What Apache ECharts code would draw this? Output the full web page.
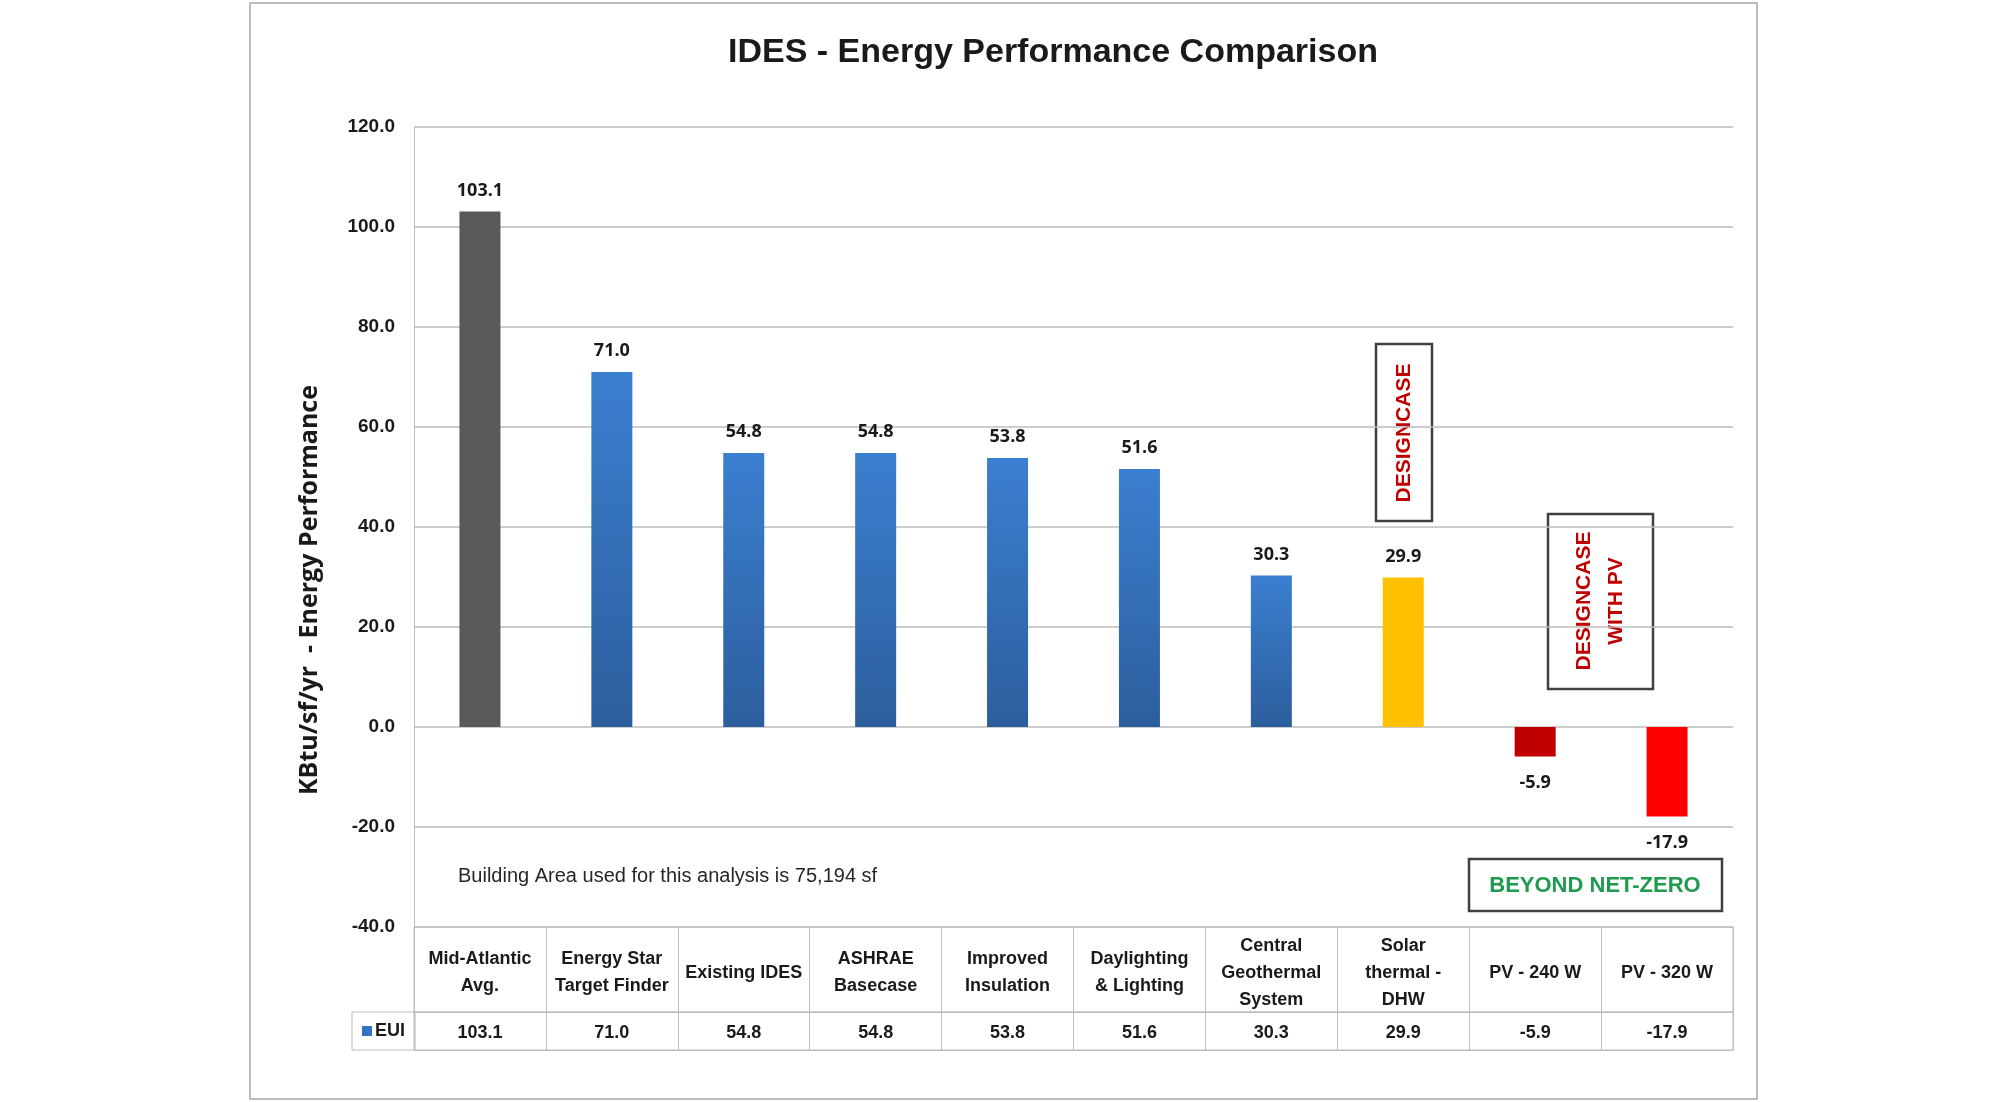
<!DOCTYPE html>
<html>
<head>
<meta charset="utf-8">
<script src="https://cdn.jsdelivr.net/npm/echarts@6/dist/echarts.min.js"></script>
<style>
html,body{margin:0;padding:0;background:#fff;}
#chart{width:2008px;height:1102px;}
</style>
</head>
<body>
<div id="chart"></div>
<script>
// ---- data ----
const categories = [
  "Mid-Atlantic\nAvg.",
  "Energy Star\nTarget Finder",
  "Existing IDES",
  "ASHRAE\nBasecase",
  "Improved\nInsulation",
  "Daylighting\n& Lighting",
  "Central\nGeothermal\nSystem",
  "Solar\nthermal -\nDHW",
  "PV - 240 W",
  "PV - 320 W"
];
const euiValues = [103.1, 71.0, 54.8, 54.8, 53.8, 51.6, 30.3, 29.9, -5.9, -17.9];
const yTicks = { min: -40, max: 120, interval: 20 };
const seriesName = "EUI";

// ---- styles ----
const blueGrad = {
  type: 'linear', x: 0, y: 0, x2: 0, y2: 1,
  colorStops: [{ offset: 0, color: '#3b7fd0' }, { offset: 1, color: '#2c5e9d' }]
};
const barColors = ['#595959', blueGrad, blueGrad, blueGrad, blueGrad, blueGrad, blueGrad, '#ffc000', '#c00000', '#ff0000'];
const narrow = '"Liberation Sans Narrow", "Liberation Sans", Arial, sans-serif';
const wide = '"Open Sans", "Noto Sans", sans-serif';
const gridColor = '#bcbcbc';

const chart = echarts.init(document.getElementById('chart'), null, { renderer: 'canvas' });

const plot = { left: 414, top: 127, width: 1319, height: 800 };

const option = {
  backgroundColor: '#ffffff',
  animation: false,
  title: {
    text: 'IDES - Energy Performance Comparison',
    left: 1048, top: 31, textAlign: 'center',
    textStyle: { fontFamily: narrow, fontWeight: 'bold', fontSize: 34, color: '#1a1a1a' }
  },
  legend: {
    data: [seriesName],
    left: 352, top: 1012,
    icon: 'rect', itemWidth: 10, itemHeight: 10, itemGap: 4,
    padding: [9, 10, 9, 10],
    borderColor: gridColor, borderWidth: 1,
    itemStyle: { color: '#3573c4' },
    textStyle: { fontFamily: narrow, fontWeight: 'bold', fontSize: 18, color: '#1a1a1a', lineHeight: 20, padding: [0, 0, 0, -2] }
  },
  grid: [
    { left: plot.left, top: plot.top, width: plot.width, height: plot.height, containLabel: false },
    { left: plot.left, top: 927, width: plot.width, height: 85, show: true, borderColor: gridColor, borderWidth: 1, containLabel: false },
    { left: plot.left, top: 1012, width: plot.width, height: 38, show: true, borderColor: gridColor, borderWidth: 1, containLabel: false }
  ],
  xAxis: [
    {
      gridIndex: 0, type: 'category', data: categories,
      axisLine: { show: false }, axisTick: { show: false }, axisLabel: { show: false }
    },
    {
      gridIndex: 1, type: 'category', data: categories, position: 'top',
      axisLine: { show: true, lineStyle: { color: gridColor } },
      axisTick: { show: false },
      splitLine: { show: true, lineStyle: { color: gridColor, width: 1 } },
      axisLabel: {
        inside: true, margin: 46, verticalAlign: 'middle', interval: 0,
        fontFamily: narrow, fontWeight: 'bold', fontSize: 18, lineHeight: 27, color: '#1a1a1a', align: 'center'
      }
    },
    {
      gridIndex: 2, type: 'category', data: categories, position: 'top',
      axisLine: { show: true, lineStyle: { color: gridColor } },
      axisTick: { show: false },
      splitLine: { show: true, lineStyle: { color: gridColor, width: 1 } },
      axisLabel: {
        inside: true, margin: 21, verticalAlign: 'middle', interval: 0,
        fontFamily: narrow, fontWeight: 'bold', fontSize: 18, color: '#1a1a1a',
        formatter: (v, i) => euiValues[i].toFixed(1)
      }
    }
  ],
  yAxis: [
    {
      gridIndex: 0, type: 'value', min: yTicks.min, max: yTicks.max, interval: yTicks.interval,
      name: 'KBtu/sf/yr  - Energy Performance', nameLocation: 'middle', nameGap: 92, nameRotate: 90,
      nameTextStyle: { fontFamily: wide, fontWeight: 'bold', fontSize: 25, color: '#1a1a1a', padding: [0, 126, 0, 0] },
      axisLine: { show: true, lineStyle: { color: gridColor, width: 1 } },
      axisTick: { show: false },
      splitLine: { show: true, lineStyle: { color: gridColor, width: 1.5 } },
      axisLabel: {
        margin: 19, fontFamily: narrow, fontWeight: 'bold', fontSize: 19, color: '#1a1a1a',
        formatter: v => v.toFixed(1)
      }
    },
    { gridIndex: 1, type: 'value', show: false },
    { gridIndex: 2, type: 'value', show: false }
  ],
  series: [
    {
      name: seriesName, type: 'bar', xAxisIndex: 0, yAxisIndex: 0,
      barWidth: 41,
      itemStyle: { color: '#3573c4' },
      label: {
        show: true, distance: 12,
        fontFamily: wide, fontWeight: 'bold', fontSize: 18, color: '#1a1a1a',
        formatter: p => p.value.toFixed(1)
      },
      data: euiValues.map((v, i) => ({
        value: v,
        itemStyle: { color: barColors[i] },
        label: v < 0 ? { position: 'bottom', distance: 17 } : { position: 'top' }
      }))
    }
  ],
  graphic: [
    // outer chart border
    { type: 'rect', shape: { x: 250, y: 3, width: 1507, height: 1096 }, style: { fill: 'none', stroke: '#a6a6a6', lineWidth: 1.5 }, silent: true },
    // building area note
    { type: 'text', left: 458, top: 866, style: { text: 'Building Area used for this analysis is 75,194 sf', fontFamily: narrow, fontSize: 20, fill: '#262626' } },
    // DESIGNCASE box
    { type: 'rect', shape: { x: 1376, y: 344, width: 56, height: 177 }, style: { fill: 'rgba(255,255,255,0)', stroke: '#404040', lineWidth: 2.5 } },
    { type: 'text', x: 1404, y: 433, rotation: Math.PI / 2,
      style: { text: 'DESIGNCASE', fontFamily: narrow, fontWeight: 'bold', fontSize: 21, fill: '#c00000', align: 'center', verticalAlign: 'middle' } },
    // DESIGNCASE WITH PV box
    { type: 'rect', shape: { x: 1548, y: 514, width: 105, height: 175 }, style: { fill: '#ffffff', stroke: '#404040', lineWidth: 2.5 } },
    { type: 'text', x: 1600, y: 601, rotation: Math.PI / 2,
      style: { text: 'DESIGNCASE\nWITH PV', fontFamily: narrow, fontWeight: 'bold', fontSize: 21, lineHeight: 32, fill: '#c00000', align: 'center', verticalAlign: 'middle' } },
    // BEYOND NET-ZERO box
    { type: 'rect', shape: { x: 1469, y: 859, width: 253, height: 52 }, style: { fill: '#ffffff', stroke: '#404040', lineWidth: 2.5 } },
    { type: 'text', x: 1595, y: 886,
      style: { text: 'BEYOND NET-ZERO', fontFamily: narrow, fontWeight: 'bold', fontSize: 22, fill: '#1f9a4e', align: 'center', verticalAlign: 'middle' } }
  ]
};

chart.setOption(option);
</script>
</body>
</html>
